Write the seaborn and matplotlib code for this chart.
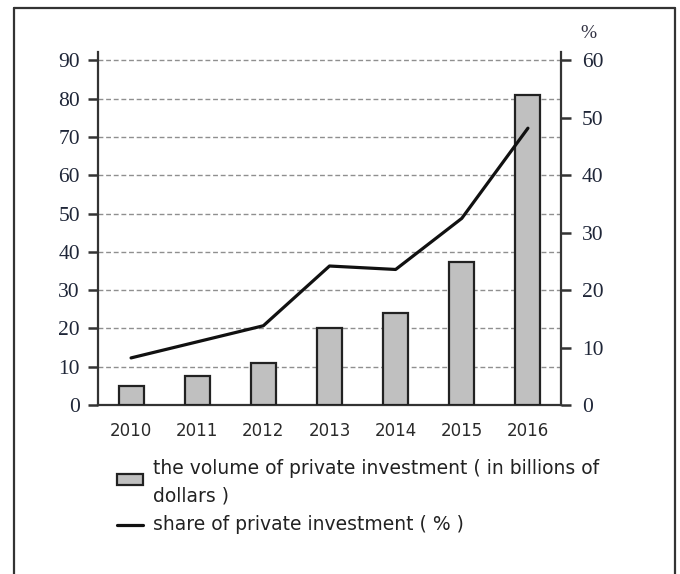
import numpy as np
import pandas as pd
import matplotlib
matplotlib.use("Agg")
import matplotlib.pyplot as plt
from matplotlib.lines import Line2D
from matplotlib.patches import Rectangle
import seaborn as sns

years = ["2010", "2011", "2012", "2013", "2014", "2015", "2016"]
volume = [5.0, 7.5, 11.0, 20.0, 24.0, 37.3, 81.0]
share = [8.2, 11.0, 13.8, 24.2, 23.6, 32.5, 48.2]
left_ticks = [0, 10, 20, 30, 40, 50, 60, 70, 80, 90]
right_ticks = [0, 10, 20, 30, 40, 50, 60]
legend_bar_1 = "the volume of private investment ( in billions of"
legend_bar_2 = "dollars )"
legend_line = "share of private investment ( % )"

sns.set_theme(style="white")
plt.rcParams["font.family"] = ["DejaVu Sans"]

df = pd.DataFrame({"year": years, "volume": volume, "share": share})

W, H = 680, 574
fig = plt.figure(figsize=(W / 100, H / 100), dpi=100)
ax = fig.add_axes([98 / W, 1 - 405 / H, (561 - 98) / W, (405 - 52) / H])

sns.barplot(data=df, x="year", y="volume", ax=ax, width=0.38,
            color="#c0c0c0", edgecolor="#222222", linewidth=1.6,
            saturation=1, zorder=3)
ax.set_xlim(-0.5, len(years) - 0.5)
ax.set_ylim(0, 92.2)

ax2 = ax.twinx()
sns.lineplot(x=np.arange(len(years)), y=df["share"], ax=ax2, color="#111111",
             linewidth=2.3, zorder=4)
ax2.set_ylim(0, 92.2 / 1.5)
ax2.set_xlim(-0.5, len(years) - 0.5)

# grid at left ticks
for v in left_ticks[1:]:
    ax.axhline(v, color="#8f8f8f", lw=1.0, ls=(0, (3.5, 2)), zorder=1)

for a in (ax, ax2):
    a.set_xlabel("")
    a.set_ylabel("")
    for s in a.spines.values():
        s.set_visible(False)

ax.spines["left"].set_visible(True)
ax.spines["bottom"].set_visible(True)
ax2.spines["right"].set_visible(True)
for s in (ax.spines["left"], ax.spines["bottom"], ax2.spines["right"]):
    s.set_color("#333333")
    s.set_linewidth(1.6)

num_font = dict(family="Liberation Serif", size=15.5, color="#1f2638")
ax.set_yticks(left_ticks)
ax.set_yticklabels([str(t) for t in left_ticks], fontdict=num_font)
ax.tick_params(axis="y", left=True, length=7, width=1.8, color="#333333", pad=6)
ax2.set_yticks(right_ticks)
ax2.set_yticklabels([str(t) for t in right_ticks], fontdict=num_font)
ax2.tick_params(axis="y", right=True, length=7, width=1.8, color="#333333", pad=8)

ax.set_xticks(np.arange(-0.5, len(years), 1.0))
ax.set_xticklabels([""] * (len(years) + 1))
ax.tick_params(axis="x", which="major", bottom=True, length=8, width=1.8, color="#333333")
ax.set_xticks(np.arange(len(years)), minor=True)
ax.set_xticklabels(years, minor=True, fontsize=12, color="#2a2a2a")
ax.tick_params(axis="x", which="minor", bottom=True, length=0, pad=12)
ax2.set_xticks([])

fig.text(588 / W, 1 - 33 / H, "%", ha="center", va="center",
         family="Liberation Serif", size=14, color="#333344")

# legend
fig.add_artist(Rectangle((117 / W, 1 - 485 / H), 26 / W, 11 / H,
                         transform=fig.transFigure, facecolor="#c0c0c0",
                         edgecolor="#222222", lw=1.6))
fig.add_artist(Line2D([117 / W, 143 / W], [1 - 525 / H, 1 - 525 / H],
                      transform=fig.transFigure, color="#111111", lw=2.3))
leg_font = dict(fontsize=13.5, color="#222222", ha="left", va="center")
fig.text(153 / W, 1 - 468 / H, legend_bar_1, **leg_font)
fig.text(153 / W, 1 - 496 / H, legend_bar_2, **leg_font)
fig.text(153 / W, 1 - 524 / H, legend_line, **leg_font)

# outer frame (open at bottom)
fc = "#333333"
fig.add_artist(Line2D([14 / W, 14 / W], [0, 1 - 8 / H], transform=fig.transFigure, color=fc, lw=1.6))
fig.add_artist(Line2D([14 / W, 675 / W], [1 - 8 / H, 1 - 8 / H], transform=fig.transFigure, color=fc, lw=1.6))
fig.add_artist(Line2D([675 / W, 675 / W], [0, 1 - 8 / H], transform=fig.transFigure, color=fc, lw=1.6))

fig.savefig("out.png", dpi=100, facecolor="white")
